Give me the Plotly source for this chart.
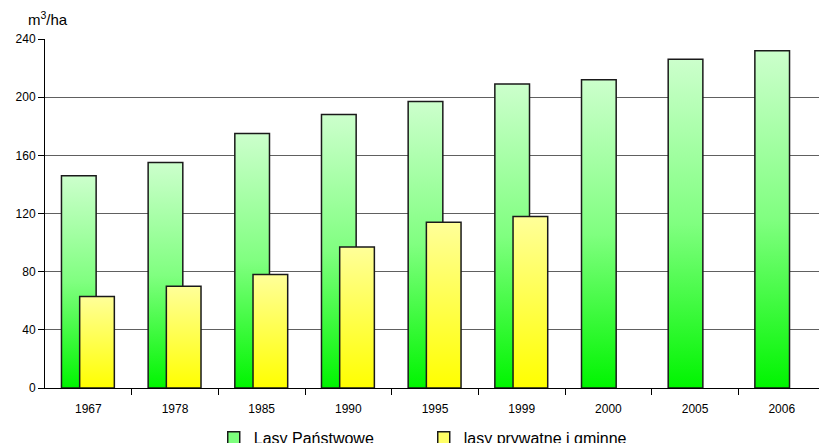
import plotly.graph_objects as go

years = ["1967", "1978", "1985", "1990", "1995", "1999", "2000", "2005", "2006"]
lasy_panstwowe = [146, 155, 175, 188, 197, 209, 212, 226, 232]
lasy_prywatne = [63, 70, 78, 97, 114, 118, None, None, None]
y_ticks = [0, 40, 80, 120, 160, 200, 240]

name_green = "Lasy Państwowe"
name_yellow = "lasy prywatne i gminne"

GREEN_SCALE = [[0, "#00f500"], [0.5, "#80ff80"], [1, "#ccffcc"]]
YELLOW_SCALE = [[0, "#ffff00"], [1, "#ffff99"]]
OUTLINE = "#1a1a1a"

# bar geometry in category units (offset of left edge, width)
G_OFF, Y_OFF, BAR_W = -0.31, -0.10, 0.40

fig = go.Figure()


def add_bar(i, value, off, scale, name):
    x0 = i + off
    x1 = x0 + BAR_W
    fig.add_trace(go.Scatter(
        x=[x0, x0, x1, x1, x0],
        y=[0, value, value, 0, 0],
        mode="lines",
        fill="toself",
        fillgradient=dict(type="vertical", colorscale=scale),
        line=dict(color=OUTLINE, width=1.5),
        name=name,
        showlegend=False,
        hoverinfo="skip",
    ))


for i, yr in enumerate(years):
    add_bar(i, lasy_panstwowe[i], G_OFF, GREEN_SCALE, name_green)
    v = lasy_prywatne[i]
    if v is not None:
        add_bar(i, v, Y_OFF, YELLOW_SCALE, name_yellow)

# legend entries
for name, col in [(name_green, "#7dff7d"), (name_yellow, "#ffff66")]:
    fig.add_trace(go.Bar(x=[None], y=[None], name=name,
                         marker=dict(color=col, line=dict(color=OUTLINE, width=1.5))))

# invisible carrier for the label axis
fig.add_trace(go.Scatter(x=[0], y=[0], xaxis="x2", mode="markers",
                         marker=dict(opacity=0), showlegend=False, hoverinfo="skip"))

x_range = [-0.5, 8.43]
n = len(years)

fig.update_layout(
    width=819, height=443,
    margin=dict(l=45, r=0, t=39, b=55, autoexpand=False),
    paper_bgcolor="white", plot_bgcolor="white",
    font=dict(family="Liberation Sans, Arial, sans-serif", color="black"),
    xaxis=dict(
        range=x_range, tickvals=[k + 0.5 for k in range(n)],
        showticklabels=False,
        ticks="outside", ticklen=6, tickcolor="black",
        showgrid=False, zeroline=False, showline=True, linecolor="black", linewidth=1,
        automargin=False,
    ),
    xaxis2=dict(
        range=x_range, overlaying="x", anchor="y", side="bottom",
        tickvals=list(range(n)), ticktext=years, ticks="",
        showgrid=False, zeroline=False, showline=False,
        tickfont=dict(size=12), ticklabelstandoff=12, automargin=False,
    ),
    yaxis=dict(
        range=[0, 240], tickvals=y_ticks, ticktext=[str(t) for t in y_ticks],
        ticks="outside", ticklen=6, tickcolor="black",
        showgrid=True, gridcolor="#606060", gridwidth=1,
        zeroline=False, showline=True, linecolor="black", linewidth=1,
        tickfont=dict(size=12), automargin=False,
    ),
    legend=dict(
        orientation="h", x=0.218, xanchor="left",
        yref="container", y=0.05, yanchor="top",
        font=dict(size=16), entrywidth=165, entrywidthmode="pixels",
        bgcolor="rgba(0,0,0,0)", itemwidth=30,
    ),
    annotations=[dict(
        text="m<sup>3</sup>/ha", xref="paper", yref="paper",
        x=-0.0245, y=1.025, xanchor="left", yanchor="bottom",
        showarrow=False, font=dict(size=15),
    )],
)

fig.write_html("out.html")
